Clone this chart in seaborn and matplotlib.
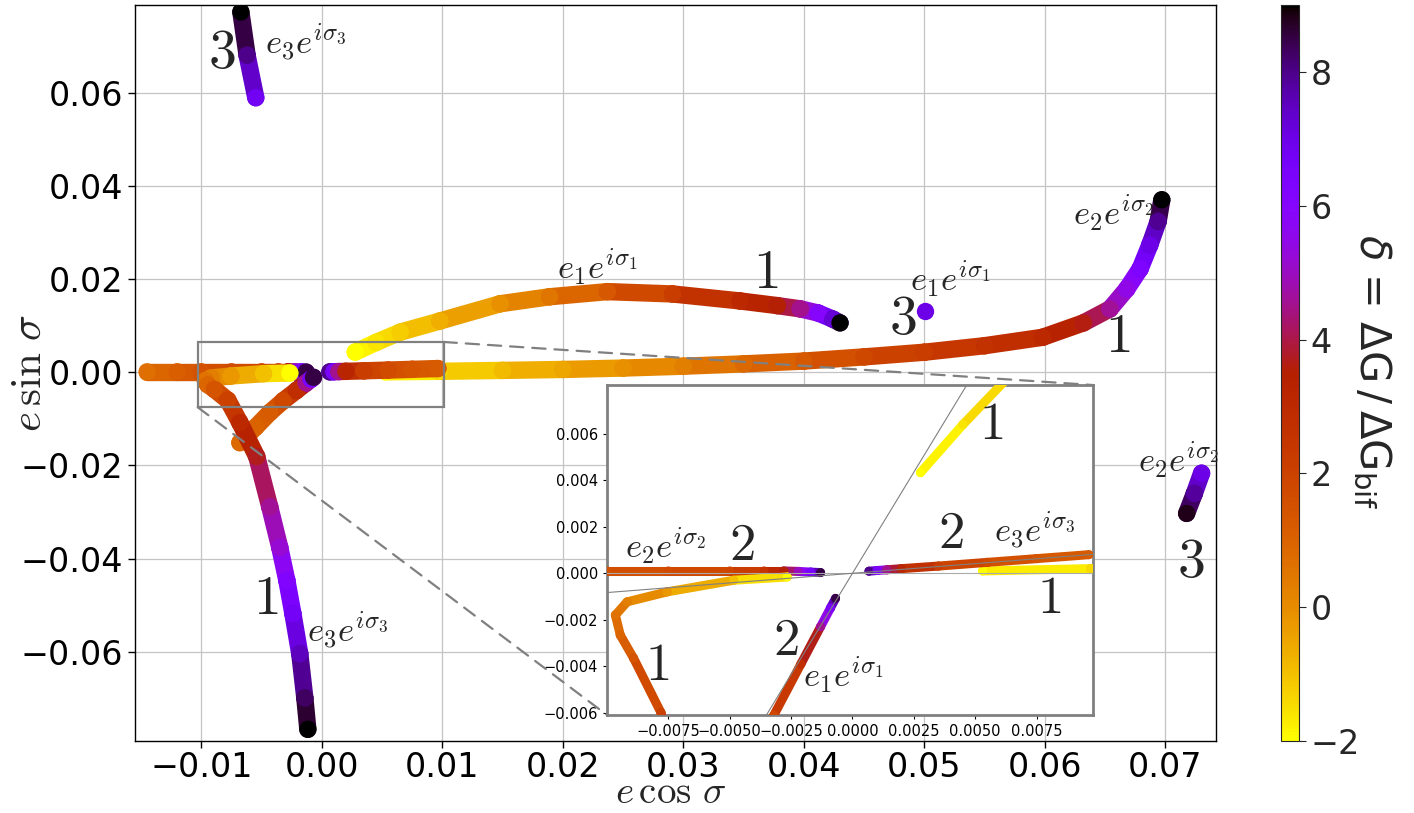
import numpy as np
import pandas as pd
import matplotlib
matplotlib.use("Agg")
import matplotlib.pyplot as plt
import seaborn as sns
from matplotlib.collections import LineCollection
from matplotlib.patches import Rectangle, ConnectionPatch
from matplotlib.colors import Normalize
from matplotlib.cm import ScalarMappable
from matplotlib.ticker import FuncFormatter

sns.set_style("ticks")
plt.rcParams["font.family"] = ["DejaVu Sans"]
plt.rcParams["mathtext.fontset"] = "cm"

# ---------------- data ----------------
# branch 1
e2b1_x = [0.0053, 0.0097, 0.015, 0.02, 0.025, 0.03, 0.035, 0.04, 0.045, 0.05, 0.055,
          0.0598, 0.0632, 0.0654, 0.0668, 0.0679, 0.0687, 0.0694, 0.0697]
e2b1_y = [0.0001, 0.0002, 0.0004, 0.0006, 0.0009, 0.0013, 0.0018, 0.0024, 0.0033, 0.0043,
          0.0057, 0.0075, 0.0106, 0.0136, 0.0179, 0.0222, 0.0273, 0.0324, 0.0370]
e2b1_d = [-2, -1.4, -0.9, -0.5, -0.1, 0.3, 0.8, 1.3, 1.8, 2.2, 2.6, 3.0, 3.6, 4.6, 5.5,
          6.3, 7.0, 7.9, 9.0]

e1b1_x = [0.00277, 0.0045, 0.0065, 0.0098, 0.0148, 0.0189, 0.0237, 0.0291, 0.0347, 0.0378,
          0.0397, 0.0412, 0.0424, 0.0430]
e1b1_y = [0.00433, 0.0064, 0.0086, 0.0110, 0.0147, 0.0162, 0.0173, 0.0168, 0.0153, 0.0143,
          0.0136, 0.0127, 0.0114, 0.0106]
e1b1_d = [-2, -1.6, -1.2, -0.7, -0.1, 0.5, 1.3, 2.2, 3.0, 3.5, 4.5, 6.0, 7.2, 9.0]

e3b1_x = [-0.00266, -0.00484, -0.00755, -0.00918, -0.00966, -0.00946, -0.00892, -0.0078,
          -0.0068, -0.0054, -0.00432, -0.00349, -0.0029, -0.0024, -0.00183, -0.00141, -0.00116]
e3b1_y = [-0.00016, -0.0003, -0.0008, -0.00123, -0.0018, -0.00266, -0.00365, -0.006,
          -0.0108, -0.0181, -0.0289, -0.0376, -0.0447, -0.0518, -0.0604, -0.0699, -0.0766]
e3b1_d = [-2, -1.0, -0.2, 0.3, 0.6, 0.9, 1.4, 2.0, 3.0, 3.7, 4.6, 5.2, 6.2, 6.7, 7.5, 8.3, 9.0]

# branch 2
e2b2_x = [-0.0145, -0.0120, -0.0100, -0.0075, -0.0050, -0.0036, -0.0028, -0.0022, -0.0017, -0.0013]
e2b2_y = [0.0001, 0.0001, 0.0001, 0.0001, 0.0001, 0.0001, 0.0001, 0.00008, 0.00005, 0.00003]
e2b2_d = [0.7, 1.1, 1.5, 1.7, 1.9, 2.5, 3.5, 5.0, 6.5, 8.5]

e1b2_x = [-0.0068, -0.0055, -0.0043, -0.0032, -0.0021, -0.0013, -0.0009, -0.00069]
e1b2_y = [-0.0151, -0.0118, -0.0086, -0.0061, -0.0039, -0.0023, -0.0015, -0.00108]
e1b2_d = [0.8, 1.0, 1.2, 1.8, 2.8, 4.5, 6.5, 8.5]

e3b2_x = [0.00067, 0.0010, 0.0014, 0.0020, 0.0035, 0.0055, 0.0075, 0.00963]
e3b2_y = [0.00009, 0.00012, 0.00015, 0.0002, 0.00031, 0.00047, 0.00063, 0.0008]
e3b2_d = [8.0, 6.5, 4.5, 3.2, 2.2, 1.7, 1.4, 1.2]

# branch 3
e3b3_x = [-0.00672, -0.0062, -0.00548]
e3b3_y = [0.0773, 0.068, 0.0589]
e3b3_d = [9.0, 8.0, 6.8]

e2b3_x = [0.0730, 0.0724, 0.07176]
e2b3_y = [-0.02165, -0.0260, -0.03028]
e2b3_d = [7.0, 7.8, 8.8]

e1b3_x = [0.05004]
e1b3_y = [0.01317]
e1b3_d = [7.0]

curves = [
    (e2b1_x, e2b1_y, e2b1_d),
    (e2b2_x, e2b2_y, e2b2_d),
    (e3b2_x, e3b2_y, e3b2_d),
    (e1b2_x, e1b2_y, e1b2_d),
    (e3b1_x, e3b1_y, e3b1_d),
    (e1b1_x, e1b1_y, e1b1_d),
    (e3b3_x, e3b3_y, e3b3_d),
    (e2b3_x, e2b3_y, e2b3_d),
    (e1b3_x, e1b3_y, e1b3_d),
]

xticks_main = [-0.01, 0.00, 0.01, 0.02, 0.03, 0.04, 0.05, 0.06, 0.07]
yticks_main = [-0.06, -0.04, -0.02, 0.00, 0.02, 0.04, 0.06]
xticks_in = [-0.0075, -0.005, -0.0025, 0.0, 0.0025, 0.005, 0.0075]
yticks_in = [-0.006, -0.004, -0.002, 0.0, 0.002, 0.004, 0.006]
cbar_ticks = [-2, 0, 2, 4, 6, 8]

cmap = plt.get_cmap("gnuplot_r")
norm = Normalize(vmin=-2, vmax=9)


def draw(a, xs, ys, ds, lw, s, z):
    pts = np.column_stack([xs, ys])
    if len(pts) > 1:
        segs = np.stack([pts[:-1], pts[1:]], axis=1)
        mids = (np.asarray(ds[:-1]) + np.asarray(ds[1:])) / 2.0
        lc = LineCollection(segs, colors=cmap(norm(mids)), linewidths=lw,
                            capstyle="round", joinstyle="round", zorder=z)
        a.add_collection(lc)
    df = pd.DataFrame({"x": xs, "y": ys, "d": ds})
    sns.scatterplot(data=df, x="x", y="y", hue="d", palette="gnuplot_r", hue_norm=norm,
                    s=s, linewidth=0, legend=False, ax=a, zorder=z + 0.5)


def fmt(dec):
    return FuncFormatter(lambda v, p: f"{v:.{dec}f}".replace("-", "\u2212"))


fig = plt.figure(figsize=(14.14, 8.13), dpi=100)
ax = fig.add_axes([0.0955, 0.0886, 0.7645, 0.9053])

for i, (xs, ys, ds) in enumerate(curves):
    draw(ax, xs, ys, ds, lw=12.5, s=156, z=3 + i)

ax.set_xlim(-0.0155, 0.0742)
ax.set_ylim(-0.0791, 0.0788)
ax.set_xticks(xticks_main)
ax.set_yticks(yticks_main)
ax.xaxis.set_major_formatter(fmt(2))
ax.yaxis.set_major_formatter(fmt(2))
ax.tick_params(labelsize=24, length=5, width=1, colors="black")
ax.tick_params(axis="x", pad=2)
ax.grid(True, color="#c4c4c4", lw=0.9)
ax.set_axisbelow(True)
for sp in ax.spines.values():
    sp.set_color("black")
    sp.set_linewidth(1.0)
ax.set_xlabel(r"$e\,\cos\,\sigma$", fontsize=28)
ax.set_ylabel(r"$e\,\sin\,\sigma$", fontsize=31)
ax.xaxis.set_label_coords(0.495, -0.0955)
ax.xaxis.label.set_va("bottom")
ax.yaxis.set_label_coords(-0.098, 0.5)
ax.yaxis.label.set_va("center")

# zoom indicator
ax.add_patch(Rectangle((-0.0103, -0.0075), 0.0204, 0.0140, fill=False,
                       ec="gray", lw=1.6, zorder=20))

# labels in main
lab_num = 40
lab_e = 25
ax.text(-0.0083, 0.0684, r"$3$", fontsize=lab_num, ha="center", va="center", zorder=30)
ax.text(-0.00473, 0.0706, r"$e_3e^{i\sigma_3}$", fontsize=lab_e, ha="left", va="center", zorder=30)
ax.text(0.0195, 0.0225, r"$e_1e^{i\sigma_1}$", fontsize=lab_e, ha="left", va="center", zorder=30)
ax.text(0.0368, 0.0212, r"$1$", fontsize=lab_num, ha="center", va="center", zorder=30)
ax.text(0.0488, 0.0199, r"$e_1e^{i\sigma_1}$", fontsize=lab_e, ha="left", va="center", zorder=30)
ax.text(0.0482, 0.0114, r"$3$", fontsize=lab_num, ha="center", va="center", zorder=30)
ax.text(0.0623, 0.0341, r"$e_2e^{i\sigma_2}$", fontsize=lab_e, ha="left", va="center", zorder=30)
ax.text(0.0660, 0.0075, r"$1$", fontsize=lab_num, ha="center", va="center", zorder=30)
ax.text(0.0677, -0.0190, r"$e_2e^{i\sigma_2}$", fontsize=lab_e, ha="left", va="center", zorder=30)
ax.text(0.0721, -0.0408, r"$3$", fontsize=lab_num, ha="center", va="center", zorder=30)
ax.text(-0.00465, -0.0486, r"$1$", fontsize=lab_num, ha="center", va="center", zorder=30)
ax.text(-0.00125, -0.0555, r"$e_3e^{i\sigma_3}$", fontsize=lab_e, ha="left", va="center", zorder=30)

# ---------------- inset ----------------
axi = fig.add_axes([0.4293, 0.1205, 0.3437, 0.4059])
axi.set_facecolor("white")
for i, (xs, ys, ds) in enumerate(curves):
    draw(axi, xs, ys, ds, lw=6.5, s=42, z=3 + i)
axi.set_xlim(-0.0100, 0.0098)
axi.set_ylim(-0.0061, 0.0081)
xx = np.array([-0.011, 0.011])
axi.plot(xx, 1.74 * xx, color="gray", lw=0.8, zorder=20)
axi.plot(xx, 0.083 * xx, color="gray", lw=0.8, zorder=20)
axi.axhline(0, color="#aaaaaa", lw=0.8, zorder=19)
axi.grid(False)
axi.set_xticks(xticks_in)
axi.set_yticks(yticks_in)
axi.xaxis.set_major_formatter(fmt(4))
axi.yaxis.set_major_formatter(fmt(3))
axi.tick_params(labelsize=10.5, length=3, colors="black")
axi.set_xlabel("")
axi.set_ylabel("")
for sp in axi.spines.values():
    sp.set_color("gray")
    sp.set_linewidth(2.0)

in_num = 38
axi.text(-0.00925, 0.00116, r"$e_2e^{i\sigma_2}$", fontsize=lab_e, ha="left", va="center", zorder=30)
axi.text(-0.00449, 0.0012, r"$2$", fontsize=in_num, ha="center", va="center", zorder=30)
axi.text(0.00402, 0.00175, r"$2$", fontsize=in_num, ha="center", va="center", zorder=30)
axi.text(0.00575, 0.0018, r"$e_3e^{i\sigma_3}$", fontsize=lab_e, ha="left", va="center", zorder=30)
axi.text(0.00563, 0.00642, r"$1$", fontsize=in_num, ha="center", va="center", zorder=30)
axi.text(0.0080, -0.00107, r"$1$", fontsize=in_num, ha="center", va="center", zorder=30)
axi.text(-0.00795, -0.00394, r"$1$", fontsize=in_num, ha="center", va="center", zorder=30)
axi.text(-0.00273, -0.00287, r"$2$", fontsize=in_num, ha="center", va="center", zorder=30)
axi.text(-0.0020, -0.0044, r"$e_1e^{i\sigma_1}$", fontsize=lab_e, ha="left", va="center", zorder=30)

# connector lines
for (xa, ya), (xb, yb) in [((0.0101, 0.0065), (1, 1)), ((-0.0103, -0.0075), (0, 0))]:
    cp = ConnectionPatch(xyA=(xa, ya), coordsA=ax.transData,
                         xyB=(xb, yb), coordsB=axi.transAxes,
                         color="gray", lw=1.6, linestyle=(0, (6, 4)), zorder=25)
    fig.add_artist(cp)

# ---------------- colorbar ----------------
cax = fig.add_axes([0.9059, 0.0886, 0.0127, 0.9053])
sm = ScalarMappable(norm=norm, cmap=cmap)
cb = fig.colorbar(sm, cax=cax, ticks=cbar_ticks)
cb.ax.yaxis.set_major_formatter(fmt(0))
cb.ax.tick_params(labelsize=24, length=5)
cb.outline.set_linewidth(0.8)
fig.text(0.970, 0.543, r"$\delta$ = $\Delta\mathrm{G}\,/\,\Delta\mathrm{G}_{\mathrm{bif}}$",
         fontsize=30, rotation=270, ha="center", va="center",
         math_fontfamily="dejavusans")

fig.savefig("out.png", dpi=100)
